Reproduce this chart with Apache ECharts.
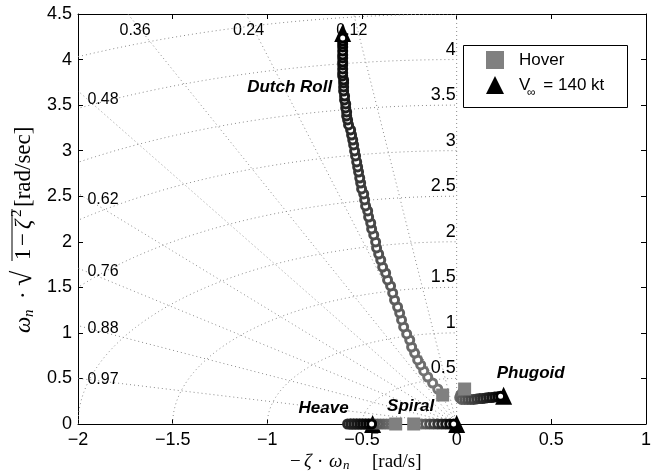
<!DOCTYPE html>
<html>
<head>
<meta charset="utf-8">
<script src="https://cdn.jsdelivr.net/npm/echarts@6/dist/echarts.min.js"></script>
<style>
  html, body { margin: 0; padding: 0; background: #fff; }
  #chart { width: 656px; height: 476px; }
</style>
</head>
<body>
<div id="chart"></div>
<script>
// axis ticks
const xTicks = [-2, -1.5, -1, -0.5, 0, 0.5, 1];
const yTicks = [0, 0.5, 1, 1.5, 2, 2.5, 3, 3.5, 4, 4.5];

// s-plane grid: damping ratio rays and natural frequency arcs
const zetaLines = [0, 0.12, 0.24, 0.36, 0.48, 0.62, 0.76, 0.88, 0.97];
const wnCircles = [0.5, 1, 1.5, 2, 2.5, 3, 3.5, 4, 4.5];

// locus points, hover -> 140 kt
const dutchRoll = [
  [-0.100, 0.384], [-0.127, 0.450], [-0.153, 0.516], [-0.174, 0.582], [-0.190, 0.648],
  [-0.206, 0.703], [-0.222, 0.779], [-0.238, 0.845], [-0.248, 0.922], [-0.264, 0.988],
  [-0.280, 1.065], [-0.291, 1.142], [-0.301, 1.218], [-0.312, 1.284], [-0.328, 1.361],
  [-0.338, 1.438], [-0.349, 1.515], [-0.365, 1.581], [-0.375, 1.658], [-0.391, 1.723],
  [-0.401, 1.800], [-0.412, 1.866], [-0.423, 1.932], [-0.428, 1.998], [-0.438, 2.075],
  [-0.449, 2.141], [-0.454, 2.206], [-0.465, 2.272], [-0.470, 2.338], [-0.481, 2.393],
  [-0.486, 2.459], [-0.491, 2.525], [-0.502, 2.580], [-0.507, 2.645], [-0.512, 2.700],
  [-0.518, 2.766], [-0.523, 2.821], [-0.528, 2.876], [-0.534, 2.942], [-0.539, 2.997],
  [-0.544, 3.063], [-0.549, 3.117], [-0.555, 3.172], [-0.560, 3.227], [-0.571, 3.282],
  [-0.576, 3.337], [-0.581, 3.381], [-0.581, 3.425], [-0.586, 3.469], [-0.586, 3.513],
  [-0.592, 3.557], [-0.592, 3.600], [-0.597, 3.655], [-0.597, 3.699], [-0.597, 3.743],
  [-0.597, 3.776], [-0.602, 3.820], [-0.602, 3.853], [-0.602, 3.897], [-0.602, 3.941],
  [-0.602, 3.974], [-0.602, 4.018], [-0.602, 4.051], [-0.602, 4.094], [-0.602, 4.138],
  [-0.602, 4.171], [-0.602, 4.204], [-0.602, 4.237]
];
const phugoid = [
  [0.032, 0.35], [0.021, 0.32], [0.016, 0.29], [0.026, 0.27], [0.042, 0.27],
  [0.058, 0.27], [0.074, 0.27], [0.090, 0.27], [0.106, 0.275], [0.122, 0.28],
  [0.137, 0.28], [0.153, 0.285], [0.169, 0.29], [0.185, 0.29], [0.201, 0.295],
  [0.217, 0.30], [0.232, 0.305]
];
const heave = [
  [-0.338, 0], [-0.354, 0], [-0.370, 0], [-0.386, 0], [-0.402, 0], [-0.417, 0],
  [-0.433, 0], [-0.449, 0], [-0.465, 0], [-0.481, 0], [-0.497, 0], [-0.512, 0],
  [-0.528, 0], [-0.544, 0], [-0.560, 0], [-0.576, 0],
  [-0.560, 0], [-0.544, 0], [-0.528, 0], [-0.512, 0], [-0.497, 0], [-0.481, 0],
  [-0.465, 0], [-0.449, 0]
];
const spiral = [
  [-0.206, 0], [-0.185, 0], [-0.164, 0], [-0.143, 0], [-0.122, 0],
  [-0.100, 0], [-0.079, 0], [-0.058, 0], [-0.037, 0], [-0.016, 0]
];
const hoverPoints = [[-0.074, 0.318], [0.042, 0.384], [-0.322, 0], [-0.227, 0]];
const fastPoints = [[-0.602, 4.292], [0.248, 0.31], [-0.444, 0], [0.0, 0]];

const modeLabels = [
  { text: 'Dutch Roll', x: -0.882, y: 3.69 },
  { text: 'Phugoid', x: 0.391, y: 0.56 },
  { text: 'Heave', x: -0.703, y: 0.176 },
  { text: 'Spiral', x: -0.243, y: 0.198 }
];

const SANS = '"Liberation Sans", Arial, sans-serif';
const SERIF = '"Liberation Serif", "Times New Roman", serif';

var myChart = echarts.init(document.getElementById('chart'));

// grey at hover fading to black at 140 kt
function shade(i, n) {
  const g = Math.round(118 * (1 - i / (n - 1)));
  return 'rgb(' + g + ',' + g + ',' + g + ')';
}

function locus(points) {
  return {
    type: 'scatter',
    symbol: 'circle',
    symbolSize: 8,
    z: 3,
    silent: true,
    data: points.map((p, i) => ({
      value: p,
      itemStyle: { color: '#fff', borderColor: shade(i, points.length), borderWidth: 3, opacity: 1 }
    }))
  };
}

const gridItems = zetaLines.map((z) => ['zeta', z]).concat(wnCircles.map((w) => ['wn', w]));
const dotted = { stroke: '#8a8a8a', lineWidth: 1, lineDash: [1, 3], fill: null };

function renderGrid(params, api) {
  const item = gridItems[params.dataIndex];
  const v = item[1];
  const children = [];
  if (item[0] === 'zeta') {
    const s = Math.sqrt(1 - v * v);
    const p0 = api.coord([0, 0]);
    const p1 = api.coord([-10 * v, 10 * s]);
    children.push({ type: 'line', shape: { x1: p0[0], y1: p0[1], x2: p1[0], y2: p1[1] }, style: dotted });
    if (v > 0 && v <= 0.36) {
      const p = api.coord([-4.32 * v / s, 4.32]);
      children.push({ type: 'text', x: p[0] - 6, y: p[1],
        style: { text: String(v), font: '16px ' + SANS, fill: '#000', align: 'center', verticalAlign: 'middle' } });
    } else if (v > 0.36) {
      const p = api.coord([-1.95, 1.95 * s / v]);
      children.push({ type: 'text', x: p[0], y: p[1],
        style: { text: String(v), font: '16px ' + SANS, fill: '#000', align: 'left', verticalAlign: 'middle' } });
    }
  } else {
    const pts = [];
    for (let k = 0; k <= 90; k++) {
      const a = k * Math.PI / 180;
      pts.push(api.coord([-v * Math.cos(a), v * Math.sin(a)]));
    }
    children.push({ type: 'polyline', shape: { points: pts }, style: dotted });
    if (v <= 4) {
      const p = api.coord([0, v]);
      children.push({ type: 'text', x: p[0] - 1, y: p[1] - 1,
        style: { text: String(v), font: '18px ' + SANS, fill: '#000', align: 'right', verticalAlign: 'bottom' } });
    }
  }
  return { type: 'group', children: children };
}

const fmt = (v) => (v < 0 ? '\u2212' + Math.abs(v) : String(v));

const axisCommon = {
  type: 'value',
  axisLine: { show: true, onZero: false, lineStyle: { color: '#000', width: 1 } },
  axisTick: { show: true, inside: true, length: 5, lineStyle: { color: '#000' } },
  splitLine: { show: false }
};

function txt(x, y, s, font) {
  return { type: 'text', x: x, y: y, style: { text: s, font: font, fill: '#000', verticalAlign: 'middle' } };
}

var option = {
  animation: false,
  grid: { left: 78, right: 10, top: 14, bottom: 52 },
  legend: {
    left: 481, top: 46, z: 20,
    orient: 'vertical',
    itemWidth: 18, itemHeight: 18, itemGap: 7,
    data: [
      { name: 'Hover', icon: 'rect' },
      { name: 'V140', icon: 'triangle' }
    ],
    formatter: (name) => (name === 'Hover' ? '{g|}{t|Hover}' : '{g|}{t|V}{w|}{t|= 140 kt}'),
    textStyle: {
      rich: {
        g: { width: 10 },
        w: { width: 13 },
        t: { fontFamily: SANS, fontSize: 17, color: '#000' }
      }
    }
  },
  xAxis: [
    Object.assign({}, axisCommon, {
      position: 'bottom',
      min: xTicks[0], max: xTicks[xTicks.length - 1], interval: xTicks[1] - xTicks[0],
      axisLabel: { color: '#000', fontFamily: SANS, fontSize: 18, margin: 7, formatter: fmt }
    }),
    Object.assign({}, axisCommon, {
      position: 'top',
      min: xTicks[0], max: xTicks[xTicks.length - 1], interval: xTicks[1] - xTicks[0],
      axisLabel: { show: false }
    })
  ],
  yAxis: [
    Object.assign({}, axisCommon, {
      position: 'left',
      min: yTicks[0], max: yTicks[yTicks.length - 1], interval: yTicks[1] - yTicks[0],
      axisLabel: { color: '#000', fontFamily: SANS, fontSize: 18, margin: 6 }
    }),
    Object.assign({}, axisCommon, {
      position: 'right',
      min: yTicks[0], max: yTicks[yTicks.length - 1], interval: yTicks[1] - yTicks[0],
      axisLabel: { show: false }
    })
  ],
  graphic: [
    {
      type: 'rect', left: 463, top: 45, z: 1,
      shape: { width: 164, height: 62 },
      style: { fill: '#fff', stroke: '#000', lineWidth: 1 }
    },
    { type: 'text', left: 527, top: 87, z: 30, style: { text: '\u221e', font: '12px ' + SANS, fill: '#000' } },
    // x axis title
    {
      type: 'group', x: 290, y: 462,
      children: [
        txt(0, 0, '\u2212', '19px ' + SERIF),
        txt(14, 0, '\u03b6', 'italic 19px ' + SERIF),
        txt(27, 0, '\u00b7', '19px ' + SERIF),
        txt(39, 0, '\u03c9', 'italic 19px ' + SERIF),
        txt(53, 4, 'n', 'italic 13px ' + SERIF),
        txt(82, 0, '[rad/s]', '19px ' + SERIF)
      ]
    },
    // y axis title, rotated
    {
      type: 'group', x: 24, y: 333, rotation: Math.PI / 2,
      children: [
        txt(0, 0, '\u03c9', 'italic 23px ' + SERIF),
        txt(16, 5, 'n', 'italic 15px ' + SERIF),
        txt(34, 0, '\u00b7', '23px ' + SERIF),
        txt(47, 0, '\u221a', '28px ' + SERIF),
        { type: 'line', shape: { x1: 72, y1: -12, x2: 124, y2: -12 }, style: { stroke: '#000', lineWidth: 1 } },
        txt(73, 0, '1', '23px ' + SERIF),
        txt(87, 0, '\u2212', '23px ' + SERIF),
        txt(104, 0, '\u03b6', 'italic 23px ' + SERIF),
        txt(116, -7, '2', '15px ' + SERIF),
        txt(126, 0, '[rad/sec]', '23px ' + SERIF)
      ]
    }
  ],
  series: [
    {
      type: 'custom',
      silent: true,
      clip: true,
      z: 1,
      data: gridItems.map(() => [0, 0]),
      renderItem: renderGrid
    },
    {
      name: 'V140',
      type: 'scatter',
      symbol: 'triangle',
      symbolSize: [17, 18],
      z: 2,
      itemStyle: { color: '#000', opacity: 1 },
      data: fastPoints
    },
    locus(dutchRoll),
    locus(phugoid),
    locus(heave),
    locus(spiral),
    {
      name: 'Hover',
      type: 'scatter',
      symbol: 'rect',
      symbolSize: 13,
      z: 4,
      itemStyle: { color: '#808080', opacity: 1 },
      data: hoverPoints
    },
    {
      type: 'scatter',
      symbolSize: 0,
      z: 5,
      silent: true,
      itemStyle: { opacity: 1 },
      label: {
        show: true, position: 'inside', formatter: (p) => p.name,
        color: '#000', textBorderWidth: 0, opacity: 1,
        fontFamily: SANS, fontSize: 17, fontWeight: 'bold', fontStyle: 'italic'
      },
      data: modeLabels.map((m) => ({ name: m.text, value: [m.x, m.y] }))
    }
  ]
};

option && myChart.setOption(option);
</script>
</body>
</html>
